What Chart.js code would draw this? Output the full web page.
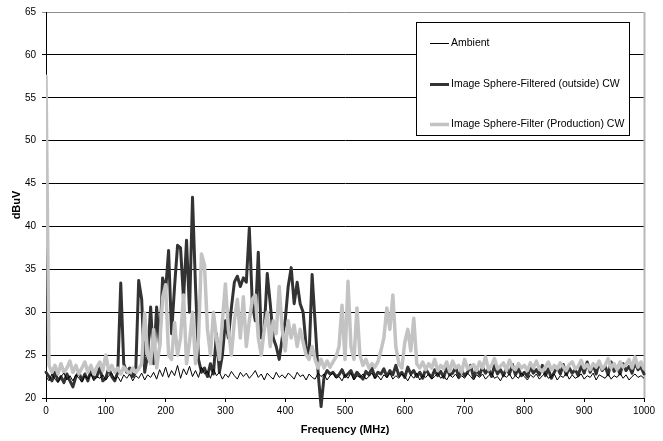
<!DOCTYPE html>
<html>
<head>
<meta charset="utf-8">
<script src="https://cdn.jsdelivr.net/npm/chart.js@4.4.1/dist/chart.umd.min.js"></script>
<style>
  html, body { margin: 0; padding: 0; background: #fff; }
  #wrap { width: 663px; height: 441px; position: relative; }
</style>
</head>
<body>
<div id="wrap"><canvas id="emc-chart"></canvas></div>
<script>
// sweep sampled every 5 MHz, 0..1000
const freqStep = 5;
const freqs = Array.from({ length: 201 }, (_, i) => i * freqStep);

const seriesNames = ["Ambient", "Image Sphere-Filtered (outside) CW", "Image Sphere-Filter (Production) CW"];
const yTicks = [20, 25, 30, 35, 40, 45, 50, 55, 60, 65];
const xTicks = [0, 100, 200, 300, 400, 500, 600, 700, 800, 900, 1000];

const ambient = [
  22.5,22,22.8,22.2,21.8,22.5,22.9,22.1,22.6,22,22.7,22.3,21.9,22.6,22.2,22.8,22,22.5,22.3,22.7,
  22.1,22.6,22.9,22.2,22.5,21.9,22.7,22.3,22.8,22,22.6,22.3,22.9,22.1,22.7,22.4,23,22.2,23.3,22.5,
  23.6,22.4,23.2,22.6,23.8,22.3,23.4,22.7,23.7,22.5,23.2,22.4,23.6,22.8,23.1,22.3,23.4,22.6,23,22.2,
  22.8,22.4,23.1,22.6,22.2,23,22.5,22.9,22.3,22.7,23.2,22.4,22.8,22.1,22.9,22.5,22.2,23,22.4,22.7,
  22.3,22.9,22.6,22.2,23,22.5,22.7,22.1,22.8,22.4,22.2,22.9,22.5,22.8,22.1,22.6,22.9,22.3,22.5,22,
  22.7,22.3,22.9,22.1,22.6,22.4,22.8,22.2,22.5,22.9,22.3,22.6,22.1,22.7,22.4,22.9,22.2,22.6,22.3,22.8,
  22.5,22,22.7,22.3,22.9,22.1,22.6,22.4,22.8,22.2,22.5,22.9,22.3,22.6,22.1,22.7,22.4,22.8,22.2,22.6,
  22.3,22.9,22.5,22.1,22.7,22.4,22.8,22.2,22.6,22.9,22.3,22.5,22,22.7,22.4,22.8,22.2,22.6,22.3,22.9,
  22.5,22.1,22.7,22.4,22.8,22.2,22.6,22.9,22.3,22.5,22.8,22.1,22.6,22.4,22.9,22.2,22.7,22.3,22.5,22.8,
  22.2,22.6,22.4,22.9,22.1,22.7,22.5,22.3,22.8,22.2,22.6,22.4,22.9,22.3,22.7,22.1,22.5,22.8,22.4,22.6,22.3
];

const filteredOutside = [
  23,22.5,22,23,22,22.5,21.8,22.8,22,21.3,22.5,23,22,22.8,22,23.2,22.3,22.5,23.5,22,
  22.3,23.5,22.5,22,23,33.4,24,23,23.5,22.5,23,33.7,31.5,23,25,30.6,24,30.6,26,34,
  32.5,37.2,27.5,33,37.8,37.5,31.5,38.4,30,43.4,33,24.5,23,23.5,22.5,24,22.8,27.5,23,25,
  29,27,30.5,33.5,34.2,33,34,33.5,39.8,31,29,37,27,28,34.5,31,27,26,24.5,27,
  29,33,35.2,31,33.5,31,30,26,25,34.4,28.8,23,19,22.5,23.2,22.8,23,22.5,22.7,23.3,
  22.5,22.8,23.2,22.3,23,22.6,22.2,23.1,22.7,23.5,22.4,23,22.8,23.4,22.5,23.2,22.7,23.8,22.6,23,
  22.4,23.6,22.8,23.2,22.5,23,22.3,23.4,22.8,22.4,23.3,22.6,23.1,22.4,23.5,22.7,22.9,23.6,22.5,23.2,
  22.6,23,23.8,22.4,23.3,22.7,23.6,22.9,23.4,22.5,23.8,22.8,23.3,22.6,23.5,22.8,23.9,22.7,23.4,22.6,
  23,22.5,23.6,22.9,23.3,22.7,23.8,22.6,23.4,22.3,23,23.6,22.8,23.9,22.7,23.5,22.9,23.3,22.6,23.8,
  22.9,24.2,23,23.9,22.8,24.1,23.2,23.7,22.7,24.2,23.1,23.6,22.8,24,23.2,23.7,22.9,24.1,23.3,23.6,22.8
];

const filterProduction = [
  57.5,23.8,23,23.8,22.8,24,23,23.5,24.3,23,23.8,22.8,23.5,24.2,23,23.8,22.8,23.6,24.2,23.2,
  25,23.2,23.8,23,23.5,22.8,23.6,23.2,22.8,23.5,23,23.4,24,29.9,25,24,28,23.5,26,31.7,
  33.2,25,24.5,28.8,25,27,32,24,26.5,30,24,27,36.8,35.5,28,25,30,27,24.5,29,
  33.3,28,25,29,31.5,27,31.8,26,29,31.5,32,27,25,28,30,26,29,27.5,33,28,
  25.5,29,27,28.5,26,28,26.5,25,24.5,26,24.5,23.5,24.5,23.5,24.3,23.6,24.2,24.8,26,30.8,
  24.5,33.6,26,24.5,30.5,25,23.8,24.5,23.5,24,23.6,24.2,25.5,27,30.5,28,32,26,24,23.5,
  26.5,28,25.5,29.3,24,23.5,24.2,23.3,24,23.5,24.5,23.2,23.8,23.4,24.2,23.1,24.3,23.5,23.8,23,
  24.5,23.4,23.6,23.9,23.2,24.2,23.5,24.8,23.3,23.8,24.6,23.4,23.7,24.1,23.2,24.4,23.6,23.3,24,23.5,
  23.8,23.2,24.1,23.5,24.3,23.4,23.1,23.6,24.2,23.3,23.8,23.4,24.1,23.6,23.2,23.9,24.2,23.4,23.7,24.4,
  23.5,23.9,23.3,24,23.6,24.3,23.4,23.8,24.6,23.5,24,23.3,24.2,23.6,23.9,24.5,23.5,24.8,23.6,24.2,23.4
];

const FONT = "'Liberation Sans', Arial, sans-serif";
const colors = ["#000000", "#333333", "#c3c3c3"];
const widths = [1, 3, 3.5];

function pts(vals) {
  return vals.map((v, i) => ({ x: freqs[i], y: v }));
}

// plot frame: gray right edge like the spreadsheet plot area
const frame = {
  id: "frame",
  beforeDatasetsDraw(chart) {
    const { ctx, chartArea: a } = chart;
    ctx.save();
    ctx.strokeStyle = "#b8b8b8";
    ctx.lineWidth = 2;
    ctx.beginPath();
    ctx.moveTo(a.right + 0.5, a.top);
    ctx.lineTo(a.right + 0.5, a.bottom);
    ctx.stroke();
    ctx.restore();
  }
};

// boxed legend inside the plot, top right
const boxLegend = {
  id: "boxLegend",
  afterDraw(chart) {
    const { ctx } = chart;
    const x = 416, y = 22, w = 213, h = 113;
    ctx.save();
    ctx.fillStyle = "#fff";
    ctx.fillRect(x, y, w, h);
    ctx.strokeStyle = "#000";
    ctx.lineWidth = 1;
    ctx.strokeRect(x + 0.5, y + 0.5, w, h);
    const rows = [43, 84, 124];
    ctx.font = "10.5px " + FONT;
    ctx.textBaseline = "middle";
    ctx.fillStyle = "#000";
    seriesNames.forEach((name, i) => {
      ctx.strokeStyle = colors[i];
      ctx.lineWidth = widths[i];
      ctx.beginPath();
      ctx.moveTo(430, rows[i] + 0.5);
      ctx.lineTo(449, rows[i] + 0.5);
      ctx.stroke();
      ctx.fillText(name, 451, rows[i]);
    });
    ctx.restore();
  }
};

new Chart(document.getElementById("emc-chart"), {
  type: "line",
  data: {
    datasets: [
      { label: seriesNames[0], data: pts(ambient), borderColor: colors[0], borderWidth: widths[0], order: 0 },
      { label: seriesNames[1], data: pts(filteredOutside), borderColor: colors[1], borderWidth: widths[1], order: 2, clip: false },
      { label: seriesNames[2], data: pts(filterProduction), borderColor: colors[2], borderWidth: widths[2], order: 1 }
    ]
  },
  options: {
    responsive: true,
    maintainAspectRatio: false,
    animation: false,
    events: [],
    layout: { padding: { top: 11, right: 19, left: 0, bottom: 0 } },
    elements: { point: { radius: 0 }, line: { tension: 0, borderJoinStyle: "round", borderCapStyle: "round" } },
    plugins: { legend: { display: false }, tooltip: { enabled: false } },
    scales: {
      x: {
        type: "linear", min: 0, max: 1000,
        afterFit: (s) => { s.height = 43; },
        afterBuildTicks: (s) => { s.ticks = xTicks.map(v => ({ value: v })); },
        ticks: { color: "#000", font: { family: FONT, size: 10 }, padding: 3, maxRotation: 0, callback: (v) => String(v) },
        grid: { drawOnChartArea: false, drawTicks: true, tickLength: 4, color: "#000" },
        border: { color: "#000", width: 1 },
        title: { display: true, text: "Frequency (MHz)", color: "#000", font: { family: FONT, size: 11, weight: "bold" }, padding: { top: 0, bottom: 4 } }
      },
      y: {
        min: 20, max: 65,
        afterFit: (s) => { s.width = 46; },
        afterBuildTicks: (s) => { s.ticks = yTicks.map(v => ({ value: v })); },
        ticks: { color: "#000", font: { family: FONT, size: 10 }, padding: 6, callback: (v) => String(v) },
        grid: { color: (c) => (c.tick && c.tick.value === 65 ? "#8c8c8c" : "#000"), tickLength: 4, lineWidth: 1 },
        border: { color: "#000", width: 1 },
        title: { display: true, text: "dBuV", color: "#000", font: { family: FONT, size: 11, weight: "bold" }, padding: { top: 10, bottom: 0 } }
      }
    }
  },
  plugins: [frame, boxLegend]
});
</script>
</body>
</html>
